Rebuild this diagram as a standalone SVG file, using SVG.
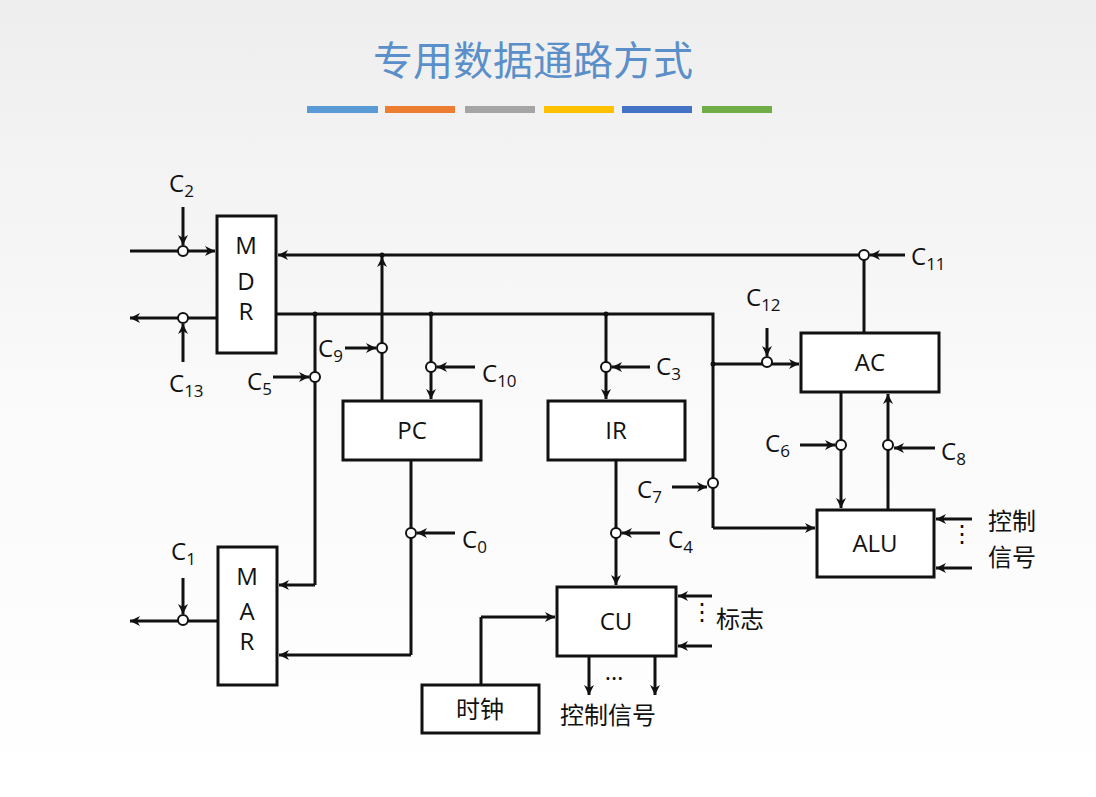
<svg xmlns="http://www.w3.org/2000/svg" width="1096" height="797" viewBox="0 0 1096 797">
<defs>
<linearGradient id="bg" x1="0" y1="0" x2="0" y2="1"><stop offset="0" stop-color="#eeeeee"/><stop offset="0.5" stop-color="#fafafa"/><stop offset="1" stop-color="#ffffff"/></linearGradient>
<marker id="a" viewBox="0 0 10 10" refX="10" refY="5" markerWidth="10" markerHeight="10" markerUnits="userSpaceOnUse" orient="auto"><path d="M0,0 L10,5 L0,10 L3,5 z" fill="#111"/></marker>
</defs>
<style>
.b{fill:#fff;stroke:#111;stroke-width:3}
.w{fill:none;stroke:#111;stroke-width:3}
.ar{marker-end:url(#a)}
.g{fill:#fff;stroke:#111;stroke-width:2}
.t{font-family:"Open Sans","Liberation Sans",sans-serif;font-size:24px;fill:#111}
.s{font-size:17px}
.cn{font-family:"Noto Sans CJK SC",sans-serif;font-size:24px;fill:#111}
.d{fill:#111}
</style>
<rect width="1096" height="797" fill="url(#bg)"/>
<text x="533" y="75" text-anchor="middle" font-family="Noto Sans CJK SC,sans-serif" font-size="40" fill="#5b8fc9">专用数据通路方式</text>
<g>
<rect x="307" y="106" width="71" height="7" fill="#5b9bd5"/><rect x="385" y="106" width="70" height="7" fill="#ed7d31"/><rect x="465" y="106" width="70" height="7" fill="#a5a5a5"/><rect x="544" y="106" width="70" height="7" fill="#ffc000"/><rect x="622" y="106" width="70" height="7" fill="#4472c4"/><rect x="702" y="106" width="70" height="7" fill="#70ad47"/>
</g>
<g id="connectors">
<path class="w ar" d="M864,255 H278"/>
<path class="w" d="M864,255 V333"/>
<path class="w ar" d="M905,255 H870"/>
<path class="w ar" d="M382,401 V257"/>
<path class="w ar" d="M345,348 H376"/>
<path class="w" d="M276,314 H713 V528"/>
<path class="w ar" d="M713,528 H815"/>
<path class="w ar" d="M713,364 H799"/>
<path class="w ar" d="M767,328 V356"/>
<path class="w ar" d="M672,487 H707"/>
<path class="w" d="M315,314 V585"/>
<path class="w ar" d="M315,585 H279"/>
<path class="w ar" d="M273,377 H309"/>
<path class="w ar" d="M431,314 V399"/>
<path class="w ar" d="M475,367 H437"/>
<path class="w ar" d="M606,314 V399"/>
<path class="w ar" d="M650,367 H612"/>
<path class="w" d="M411,460 V655"/>
<path class="w ar" d="M411,655 H279"/>
<path class="w ar" d="M455,533 H417"/>
<path class="w ar" d="M616,460 V585"/>
<path class="w ar" d="M660,533 H622"/>
<path class="w ar" d="M841,392 V508"/>
<path class="w ar" d="M800,445 H835"/>
<path class="w ar" d="M888,510 V394"/>
<path class="w ar" d="M935,448 H894"/>
<path class="w ar" d="M972,519 H936"/>
<path class="w ar" d="M972,568 H936"/>
<path class="w ar" d="M712,596 H678"/>
<path class="w ar" d="M712,646 H678"/>
<path class="w ar" d="M589,656 V695"/>
<path class="w ar" d="M655,656 V695"/>
<path class="w" d="M481,685 V617"/>
<path class="w ar" d="M481,617 H555"/>
<path class="w ar" d="M130,251 H215"/>
<path class="w ar" d="M183,207 V245"/>
<path class="w ar" d="M217,318 H130"/>
<path class="w ar" d="M183,362 V324"/>
<path class="w ar" d="M218,621 H130"/>
<path class="w ar" d="M183,578 V614"/>
<circle class="d" cx="315" cy="314" r="2.5"/><circle class="d" cx="431" cy="314" r="2.5"/><circle class="d" cx="606" cy="314" r="2.5"/><circle class="d" cx="713" cy="364" r="2.5"/><circle class="d" cx="382" cy="255" r="2.5"/>
<circle class="g" cx="864" cy="255" r="5"/><circle class="g" cx="382" cy="348" r="5"/><circle class="g" cx="767" cy="362" r="5"/><circle class="g" cx="713" cy="483" r="5"/><circle class="g" cx="315" cy="377" r="5"/><circle class="g" cx="431" cy="367" r="5"/><circle class="g" cx="606" cy="367" r="5"/><circle class="g" cx="411" cy="533" r="5"/><circle class="g" cx="616" cy="533" r="5"/><circle class="g" cx="841" cy="445" r="5"/><circle class="g" cx="888" cy="445" r="5"/><circle class="g" cx="183" cy="251" r="5"/><circle class="g" cx="183" cy="318" r="5"/><circle class="g" cx="183" cy="620" r="5"/>
</g>
<g id="MDR"><rect class="b" x="217" y="216" width="59" height="137"/><text class="t" x="246" y="254" text-anchor="middle">M</text><text class="t" x="246" y="290" text-anchor="middle">D</text><text class="t" x="246" y="320" text-anchor="middle">R</text></g>
<g id="MAR"><rect class="b" x="218" y="547" width="59" height="138"/><text class="t" x="247" y="585" text-anchor="middle">M</text><text class="t" x="247" y="620" text-anchor="middle">A</text><text class="t" x="247" y="650" text-anchor="middle">R</text></g>
<g id="PC"><rect class="b" x="343" y="401" width="138" height="59"/><text class="t" x="412" y="439" text-anchor="middle">PC</text></g>
<g id="IR"><rect class="b" x="548" y="401" width="137" height="59"/><text class="t" x="616" y="439" text-anchor="middle">IR</text></g>
<g id="AC"><rect class="b" x="801" y="333" width="138" height="59"/><text class="t" x="870" y="371" text-anchor="middle">AC</text></g>
<g id="ALU"><rect class="b" x="817" y="510" width="117" height="67"/><text class="t" x="875" y="552" text-anchor="middle">ALU</text></g>
<g id="CU"><rect class="b" x="557" y="587" width="119" height="69"/><text class="t" x="616" y="630" text-anchor="middle">CU</text></g>
<g id="clock"><rect class="b" x="422" y="685" width="117" height="48"/><text class="cn" x="480" y="718" text-anchor="middle">时钟</text></g>
<g id="labels">
<text class="t" x="169" y="192">C<tspan class="s" dy="5">2</tspan></text>
<text class="t" x="169" y="392">C<tspan class="s" dy="5">13</tspan></text>
<text class="t" x="171" y="560">C<tspan class="s" dy="5">1</tspan></text>
<text class="t" x="318" y="357">C<tspan class="s" dy="5">9</tspan></text>
<text class="t" x="247" y="390">C<tspan class="s" dy="5">5</tspan></text>
<text class="t" x="482" y="382">C<tspan class="s" dy="5">10</tspan></text>
<text class="t" x="656" y="375">C<tspan class="s" dy="5">3</tspan></text>
<text class="t" x="462" y="548">C<tspan class="s" dy="5">0</tspan></text>
<text class="t" x="668" y="548">C<tspan class="s" dy="5">4</tspan></text>
<text class="t" x="637" y="498">C<tspan class="s" dy="5">7</tspan></text>
<text class="t" x="746" y="306">C<tspan class="s" dy="5">12</tspan></text>
<text class="t" x="911" y="265">C<tspan class="s" dy="5">11</tspan></text>
<text class="t" x="765" y="452">C<tspan class="s" dy="5">6</tspan></text>
<text class="t" x="941" y="460">C<tspan class="s" dy="5">8</tspan></text>
<text class="cn" x="988" y="530">控制</text>
<text class="cn" x="988" y="566">信号</text>
<text class="cn" x="716" y="628">标志</text>
<text class="cn" x="560" y="724">控制信号</text>
<text class="t" x="962" y="542" text-anchor="middle" font-size="18">⋮</text>
<text class="t" x="702" y="620" text-anchor="middle" font-size="18">⋮</text>
<text class="t" x="614" y="680" text-anchor="middle" font-size="16">…</text>
</g>
</svg>
